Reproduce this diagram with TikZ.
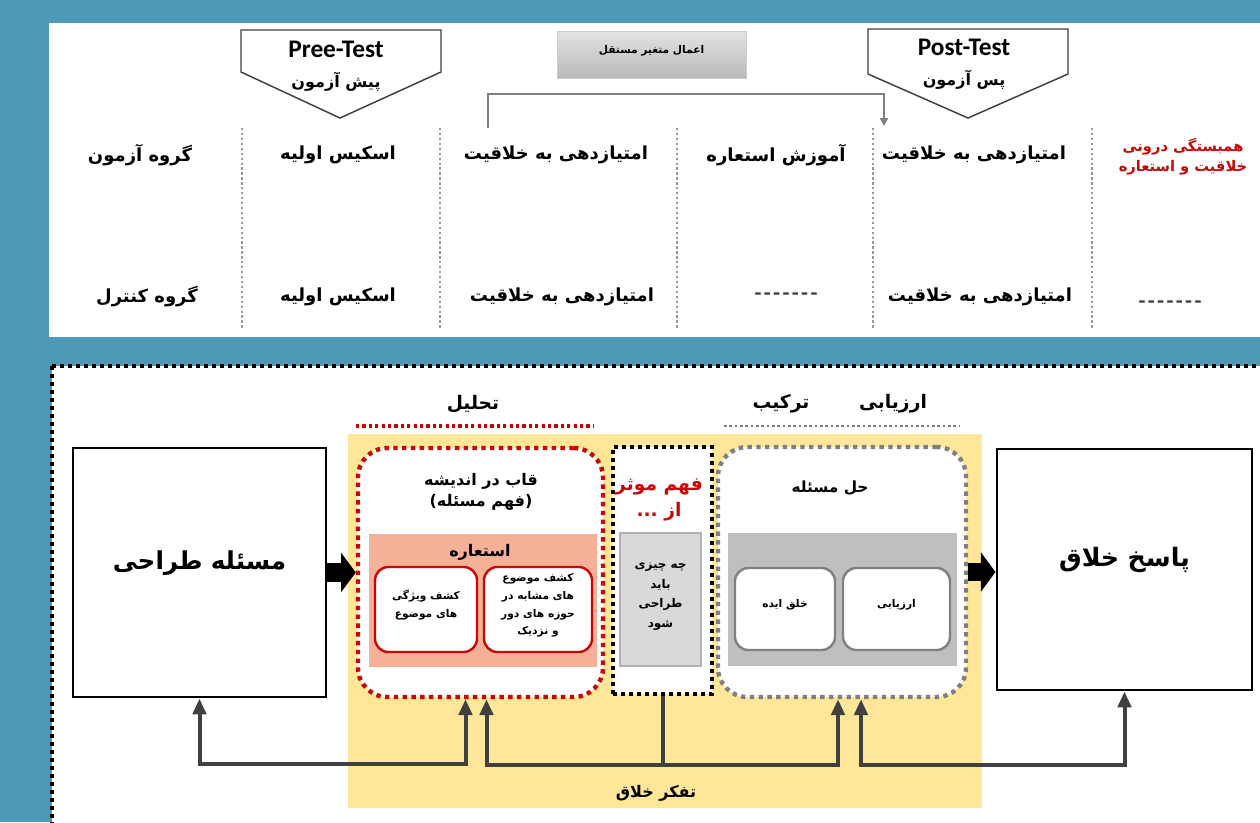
\documentclass[tikz,border=0pt]{standalone}
\usepackage{fontspec}
\setmainfont{Carlito}
\newfontfamily\fa[Script=Arabic]{DejaVu Sans}
\TeXXeTstate=1
\usetikzlibrary{arrows.meta,calc,fit}
\newcommand{\rl}[1]{\beginR #1\endR}
\newcommand{\dashrow}{-\kern1.8pt-\kern1.8pt-\kern1.8pt-\kern1.8pt-\kern1.8pt-\kern1.8pt-}
\definecolor{bgteal}{RGB}{76,154,182}
\definecolor{dred}{RGB}{200,8,8}
\definecolor{yel}{RGB}{255,230,153}
\definecolor{salmon}{RGB}{244,177,152}
\definecolor{fbgray}{RGB}{64,64,64}
\definecolor{lgray}{RGB}{217,217,217}
\definecolor{mgray}{RGB}{191,191,191}
\definecolor{dgray}{RGB}{128,128,128}
\tikzset{
  fa/.style={font=\fa\bfseries\fontsize{#1pt}{1.35\dimexpr #1pt\relax}\selectfont, inner sep=0, align=center},
  fas/.style={font=\fa\bfseries\fontsize{#1pt}{1.65\dimexpr #1pt\relax}\selectfont, inner sep=0, align=center},
  hd/.style={fa=13.5},
  dashtxt/.style={font=\bfseries\fontsize{17}{19}\selectfont, text=fbgray, inner sep=0},
  colsep/.style={draw=dgray!80, line width=1.7pt, dash pattern=on 1.7pt off 2pt},
  pent/.style={draw=fbgray, line width=1.1pt, fill=white},
  conn/.style={draw=dgray, line width=1.6pt, -{Triangle[width=6pt,length=6pt]}},
  blackdot/.style={draw=black, line width=3pt, dash pattern=on 3pt off 3pt},
  reddot/.style={draw=dred, line width=3.3pt, dash pattern=on 3.3pt off 3.3pt},
  graydot/.style={draw=dgray, line width=3.3pt, dash pattern=on 3.3pt off 3.3pt},
  box/.style={inner sep=0},
  bigbox/.style={box, draw=black, line width=2.2pt, fill=white},
  redin/.style={box, draw=dred, line width=1.8pt, fill=white, rounded corners=10pt, fas=8},
  grayin/.style={box, draw=dgray, line width=1.8pt, fill=white, rounded corners=10pt, fas=8},
  blockarrow/.style={draw=black, line width=14pt, -{Triangle[width=29pt,length=11pt]}},
  fb/.style={draw=fbgray, line width=3pt, {Triangle[width=10pt,length=12pt]}-{Triangle[width=10pt,length=12pt]}},
  fbl/.style={draw=fbgray, line width=3pt},
  lat/.style={font=\bfseries\fontsize{19}{21}\selectfont, inner sep=0},
}
\begin{document}
\begin{tikzpicture}[x=0.75pt,y=-0.75pt]
\useasboundingbox (0,0) rectangle (1260,822);
\clip (0,0) rectangle (1260,822);
\fill[bgteal] (0,0) rectangle (1260,822);
% ---------- top panel
\fill[white] (49,23) rectangle (1270,337);
\draw[pent] (241,30) -- (441,30) -- (441,72) -- (340,118) -- (241,72) -- cycle;
\node[lat] (pre) at (336,49) {Pree-Test};
\node[fa=12] (pref) at (336,82) {\rl{پیش آزمون}};
\draw[pent] (868,29) -- (1068,29) -- (1068,74) -- (968,118) -- (868,74) -- cycle;
\node[lat] (post) at (964,47) {Post-Test};
\node[fa=12] (postf) at (964,80) {\rl{پس آزمون}};
\node[box, fit={(557,31) (746,78)}, top color=gray!22, bottom color=gray!55, draw=gray!40, fa=8] (iv) {\rl{اعمال متغیر مستقل}};
\coordinate (ca) at (488,128);
\coordinate (cb) at (884,126);
\draw[conn] (ca) -- ++(0,-34) -| (cb);
\foreach \x in {242,440,677,873,1092} \draw[colsep] (\x,128) -- (\x,330);
\node[hd] (g1) at (140,155) {\rl{گروه آزمون}};
\node[hd] (g2) at (147,297) {\rl{گروه کنترل}};
\node[hd] (s1) at (338,155) {\rl{اسکیس اولیه}};
\node[hd] (s2) at (338,297) {\rl{اسکیس اولیه}};
\node[hd] (p1) at (556,155) {\rl{امتیازدهی به خلاقیت}};
\node[hd] (p2) at (562,297) {\rl{امتیازدهی به خلاقیت}};
\node[hd] (m1) at (776,155) {\rl{آموزش استعاره}};
\node[dashtxt] (m2) at (786,297) {\dashrow};
\node[hd] (q1) at (974,155) {\rl{امتیازدهی به خلاقیت}};
\node[hd] (q2) at (980,297) {\rl{امتیازدهی به خلاقیت}};
\node[fa=11, text=dred] (c1) at (1183,157) {\rl{همبستگی درونی}\\\rl{خلاقیت و استعاره}};
\node[dashtxt] (c2) at (1170,305) {\dashrow};
% ---------- bottom panel
\draw[blackdot, fill=white] (52,366) rectangle (1290,850);
\node[fa=14] (an) at (473,404) {\rl{تحلیل}};
\draw[draw=dred, line width=2.4pt, dash pattern=on 2.4pt off 2.4pt] (356,426) -- (594,426);
\node[fa=14] (tr) at (781,404) {\rl{ترکیب}};
\node[fa=14] (ar) at (893,404) {\rl{ارزیابی}};
\draw[draw=dgray, line width=2pt, dash pattern=on 2pt off 2pt] (724,426) -- (960,426);
\fill[yel] (348,434) rectangle (982,808);
\node[fa=12] (tk) at (656,793) {\rl{تفکر خلاق}};
\node[bigbox, fit={(73,448) (326,697)}, fa=18.5] (b1) {\rl{مسئله طراحی}};
\node[bigbox, fit={(997,449) (1252,690)}, fa=19] (b2) {\rl{پاسخ خلاق}};
% red frame
\node[box, reddot, fill=white, rounded corners=22pt, fit={(358,448) (603,697)}] (R) {};
\node[fa=12] (Rt) at (481,492) {\rl{قاب در اندیشه}\\\rl{(فهم مسئله)}};
\node[box, fill=salmon, fit={(369,534) (597,667)}] (S) {};
\node[fa=12] (St) at (480,552) {\rl{استعاره}};
\node[redin, fit={(375,567) (477,652)}] (S1) {\rl{کشف ویژگی}\\\rl{های موضوع}};
\node[redin, fit={(484,567) (592,652)}] (S2) {\rl{کشف موضوع}\\\rl{های مشابه در}\\\rl{حوزه های دور}\\\rl{و نزدیک}};
% black frame
\node[box, blackdot, fill=white, fit={(613,447) (712,694)}] (K) {};
\node[fa=14, text=dred] (Kt) at (659,500) {\rl{فهم موثر}\\\rl{از ...}};
\node[box, fill=lgray, draw=gray!60, line width=1pt, fit={(620,533) (701,666)}, fas=9] (Kg) {\rl{چه چیزی}\\\rl{باید}\\\rl{طراحی}\\\rl{شود}};
% gray frame
\node[box, graydot, fill=white, rounded corners=22pt, fit={(718,447) (966,697)}] (G) {};
\node[fa=11.5] (Gt) at (830,488) {\rl{حل مسئله}};
\node[box, fill=mgray, fit={(728,533) (957,666)}] (Gg) {};
\node[grayin, fit={(735,568) (835,650)}] (G1) {\rl{خلق ایده}};
\node[grayin, fit={(843,568) (950,650)}] (G2) {\rl{ارزیابی}};
% block arrows
\draw[blockarrow] (b1.east) -- (R.west);
\draw[blockarrow] (G.east) -- (G.east -| b2.west);
% feedback
\draw[fb] (b1.south) -- ++(0,66) -| ($(R.south)+(-15,0)$);
\draw[fb] ($(R.south)+(6,0)$) -- ++(0,66) -| ($(G.south)+(-4,0)$);
\draw[fbl] (K.south) -- ++(0,69);
\draw[fb] ($(G.south)+(19,0)$) -- ++(0,66) -| (b2.south);
\end{tikzpicture}
\end{document}
